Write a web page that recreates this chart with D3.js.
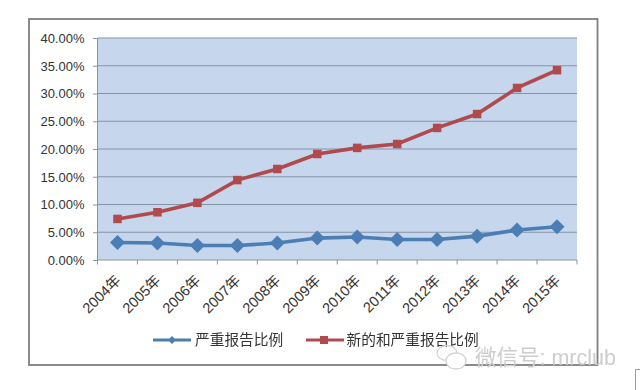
<!DOCTYPE html>
<html><head><meta charset="utf-8">
<script src="https://cdn.jsdelivr.net/npm/d3@7/dist/d3.min.js"></script>
<style>html,body{margin:0;padding:0;background:#fff}svg{display:block;filter:blur(0.35px)}text{font-family:"Liberation Sans","Noto Sans CJK SC",sans-serif;fill:#333}</style>
</head><body><svg id="c" width="640" height="390"></svg>
<script>
const categories=["2004年","2005年","2006年","2007年","2008年","2009年","2010年","2011年","2012年","2013年","2014年","2015年"];
const seriesBlue=[3.15,3.05,2.6,2.6,3.05,3.95,4.15,3.7,3.7,4.3,5.4,6.0];
const seriesRed=[7.4,8.6,10.3,14.4,16.4,19.1,20.2,20.9,23.8,26.3,31.0,34.2];
const yTicks=[0,5,10,15,20,25,30,35,40];
const legendLabels=["严重报告比例","新的和严重报告比例"];
const svg=d3.select("#c");
const L=97.5,R=577,T=38,B=260;
const x=d3.scaleBand().domain(categories).range([L,R]);
const y=d3.scaleLinear().domain([0,40]).range([B,T]);
const cx=d=>x(d)+x.bandwidth()/2;
svg.append("rect").attr("x",29).attr("y",19).attr("width",568.5).attr("height",346).attr("fill","#fff").attr("stroke","#7f7f7f").attr("stroke-width",1.8);
svg.append("path").attr("d","M635.5,390V369.5H640").attr("fill","none").attr("stroke","#9a9a9a").attr("stroke-width",1);
svg.append("rect").attr("x",L).attr("y",T).attr("width",R-L).attr("height",B-T).attr("fill","#c6d6ec");
const gy=svg.append("g").attr("transform",`translate(${L},0)`).call(d3.axisLeft(y).tickValues(yTicks).tickSize(4.5).tickPadding(8.5).tickFormat(d=>d.toFixed(2)+"%"));
gy.selectAll("text").style("font-size","13px").attr("dy","0.34em");
gy.selectAll("line").attr("stroke","#8b94a3");
gy.select(".domain").attr("stroke","#8b94a3").attr("d",`M0,${T}V${B}`);
svg.append("g").selectAll("line").data(yTicks.slice(1)).join("line").attr("x1",L).attr("x2",R).attr("y1",d=>y(d)).attr("y2",d=>y(d)).attr("stroke","#8593a8").attr("stroke-width",1);
const gx=svg.append("g").attr("transform",`translate(0,${B})`).call(d3.axisBottom(x).tickSize(0).tickFormat(""));
gx.select(".domain").attr("stroke","#8b94a3").attr("d",`M${L},0H${R}`);
gx.selectAll(".tick").remove();
const edges=categories.map(d=>x(d)).concat([R]);
gx.selectAll("line.e").data(edges).join("line").attr("class","e").attr("x1",d=>d).attr("x2",d=>d).attr("y1",0).attr("y2",4.5).attr("stroke","#8b94a3");
svg.append("g").selectAll("text").data(categories).join("text")
  .attr("transform",d=>`translate(${cx(d)-3},${B+14}) rotate(-45)`)
  .attr("text-anchor","end").attr("dy","0.7em").style("font-size","14.5px").text(d=>d);
const line=d3.line().x((d,i)=>cx(categories[i])).y(d=>y(d));
const blue="#4a7eb5",red="#b04a4c";
svg.append("path").attr("d",line(seriesBlue)).attr("fill","none").attr("stroke",blue).attr("stroke-width",3.6);
svg.append("g").selectAll("path").data(seriesBlue).join("path").attr("fill",blue)
  .attr("transform",(d,i)=>`translate(${cx(categories[i])},${y(d)})`).attr("d","M0,-7.5L7.5,0L0,7.5L-7.5,0Z");
svg.append("path").attr("d",line(seriesRed)).attr("fill","none").attr("stroke",red).attr("stroke-width",3.6);
svg.append("g").selectAll("rect").data(seriesRed).join("rect").attr("fill",red).attr("width",8.5).attr("height",8.5)
  .attr("x",(d,i)=>cx(categories[i])-4.25).attr("y",d=>y(d)-4.25);
// legend
const ly=340;
svg.append("line").attr("x1",153).attr("x2",191).attr("y1",ly).attr("y2",ly).attr("stroke","#4f7fa8").attr("stroke-width",3);
svg.append("path").attr("transform",`translate(172,${ly})`).attr("d","M0,-4L4,0L0,4L-4,0Z").attr("fill",blue);
svg.append("text").attr("x",195).attr("y",ly+5).style("font-size","14.7px").text(legendLabels[0]);
svg.append("line").attr("x1",306).attr("x2",344).attr("y1",ly).attr("y2",ly).attr("stroke",red).attr("stroke-width",3);
svg.append("rect").attr("x",320).attr("y",ly-4).attr("width",8).attr("height",8).attr("fill",red);
svg.append("text").attr("x",346.5).attr("y",ly+5).style("font-size","14.7px").text(legendLabels[1]);
// watermark
const wm=svg.append("g").attr("fill","none").attr("stroke","#d4d4d4").attr("stroke-width",1.3);
wm.append("ellipse").attr("cx",447).attr("cy",353).attr("rx",10).attr("ry",7.5);
wm.append("ellipse").attr("cx",456).attr("cy",361).attr("rx",10).attr("ry",8).attr("fill","#fff");
svg.append("text").attr("x",475).attr("y",365).style("font-size","21.5px").style("fill","#cdcdcd").text("微信号: mrclub");
</script></body></html>
